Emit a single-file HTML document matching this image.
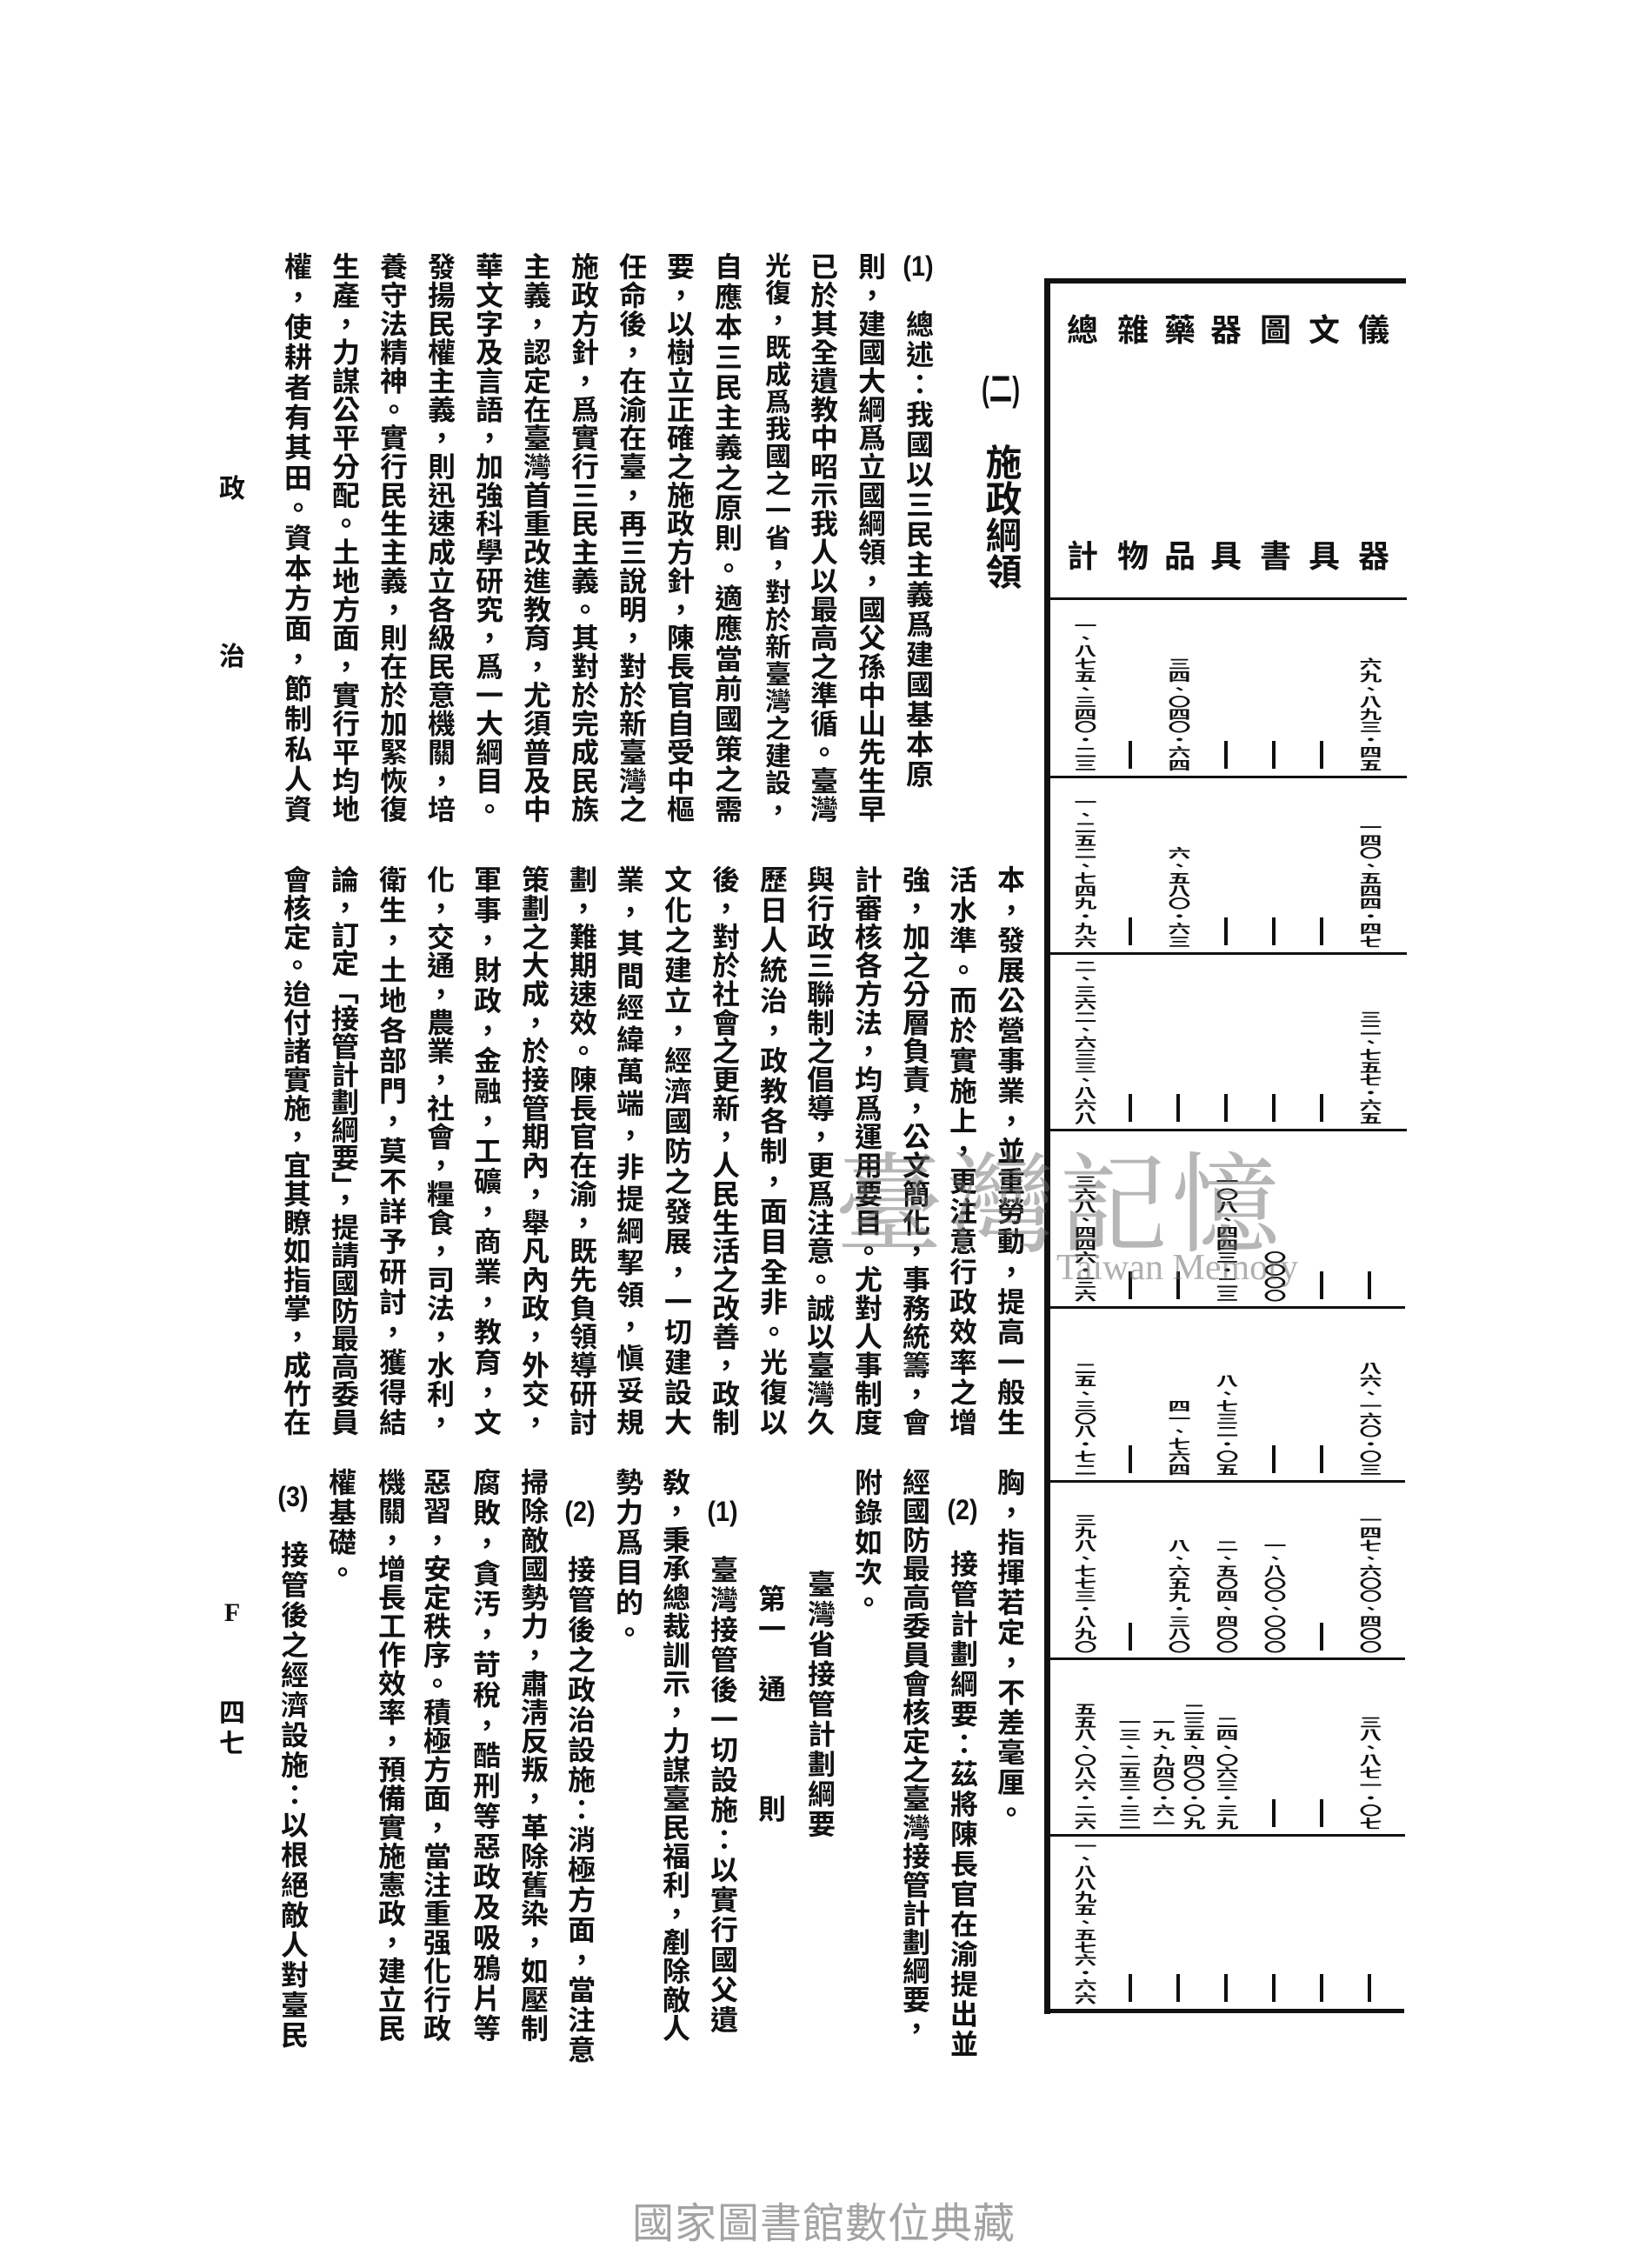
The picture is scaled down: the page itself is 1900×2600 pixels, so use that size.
<!DOCTYPE html>
<html><head><meta charset="utf-8">
<style>
html,body{margin:0;padding:0;background:#fff;}
body{width:1900px;height:2600px;position:relative;overflow:hidden;font-family:"Liberation Sans","Noto Sans CJK TC","Noto Sans CJK SC",sans-serif;color:#111;}
.c{position:absolute;writing-mode:vertical-rl;font-size:32px;line-height:34px;letter-spacing:2.5px;font-weight:700;white-space:nowrap;width:34px;}
.f{height:656px;white-space:normal;letter-spacing:0;text-align:justify;text-align-last:justify;text-justify:inter-character;}
.t{text-combine-upright:all;}
.h{position:absolute;font-size:36px;font-weight:700;width:40px;text-align:center;line-height:40px;}
.n{position:absolute;writing-mode:vertical-rl;text-orientation:upright;font-size:26px;font-weight:700;line-height:28px;width:28px;white-space:nowrap;transform:scaleY(0.56);transform-origin:bottom center;letter-spacing:0;}
.d{position:absolute;width:4px;height:32px;background:#111;}
.hl{position:absolute;background:#111;}
.side{position:absolute;font-size:30px;font-weight:700;width:36px;text-align:center;}
</style></head><body>

<!-- title -->
<div class="c" style="left:1131px;top:428px;font-size:40px;line-height:40px;width:40px;letter-spacing:3px"><span class="t">(二)</span></div>
<div class="c" style="left:1129px;top:510px;font-size:42px;line-height:44px;width:44px;letter-spacing:0">施政綱領</div>

<!-- upper band -->
<div class="c" style="left:1039px;top:290px"><span class="t">(1)</span>　總述：我國以三民主義爲建國基本原</div>
<div class="c f" style="left:984px;top:290px">則，建國大綱爲立國綱領，國父孫中山先生早</div>
<div class="c f" style="left:929px;top:290px">已於其全遺教中昭示我人以最高之準循。臺灣</div>
<div class="c f" style="left:874px;top:290px;font-size:30px">光復，既成爲我國之一省，對於新臺灣之建設，</div>
<div class="c f" style="left:819px;top:290px">自應本三民主義之原則。適應當前國策之需</div>
<div class="c f" style="left:764px;top:290px">要，以樹立正確之施政方針，陳長官自受中樞</div>
<div class="c f" style="left:709px;top:290px">任命後，在渝在臺，再三說明，對於新臺灣之</div>
<div class="c f" style="left:654px;top:290px">施政方針，爲實行三民主義。其對於完成民族</div>
<div class="c f" style="left:599px;top:290px">主義，認定在臺灣首重改進教育，尤須普及中</div>
<div class="c f" style="left:544px;top:290px">華文字及言語，加強科學研究，爲一大綱目。</div>
<div class="c f" style="left:489px;top:290px">發揚民權主義，則迅速成立各級民意機關，培</div>
<div class="c f" style="left:434px;top:290px">養守法精神。實行民生主義，則在於加緊恢復</div>
<div class="c f" style="left:379px;top:290px">生產，力謀公平分配。土地方面，實行平均地</div>
<div class="c f" style="left:324px;top:290px">權，使耕者有其田。資本方面，節制私人資</div>

<!-- middle band -->
<div class="c f" style="left:1144px;top:995px">本，發展公營事業，並重勞動，提高一般生</div>
<div class="c f" style="left:1089px;top:995px">活水準。而於實施上，更注意行政效率之增</div>
<div class="c f" style="left:1035px;top:995px">強，加之分層負責，公文簡化，事務統籌，會</div>
<div class="c f" style="left:980px;top:995px">計審核各方法，均爲運用要目。尤對人事制度</div>
<div class="c f" style="left:925px;top:995px">與行政三聯制之倡導，更爲注意。誠以臺灣久</div>
<div class="c f" style="left:871px;top:995px">歷日人統治，政教各制，面目全非。光復以</div>
<div class="c f" style="left:816px;top:995px">後，對於社會之更新，人民生活之改善，政制</div>
<div class="c f" style="left:761px;top:995px">文化之建立，經濟國防之發展，一切建設大</div>
<div class="c f" style="left:706px;top:995px">業，其間經緯萬端，非提綱挈領，愼妥規</div>
<div class="c f" style="left:652px;top:995px">劃，難期速效。陳長官在渝，既先負領導研討</div>
<div class="c f" style="left:597px;top:995px">策劃之大成，於接管期內，舉凡內政，外交，</div>
<div class="c f" style="left:542px;top:995px">軍事，財政，金融，工礦，商業，教育，文</div>
<div class="c f" style="left:488px;top:995px">化，交通，農業，社會，糧食，司法，水利，</div>
<div class="c f" style="left:433px;top:995px">衛生，土地各部門，莫不詳予研討，獲得結</div>
<div class="c f" style="left:378px;top:995px">論，訂定「接管計劃綱要」，提請國防最高委員</div>
<div class="c f" style="left:323px;top:995px">會核定。迨付諸實施，宜其瞭如指掌，成竹在</div>

<!-- lower band -->
<div class="c" style="left:1144px;top:1688px">胸，指揮若定，不差毫厘。</div>
<div class="c" style="left:1090px;top:1720px;height:627px"><span class="t">(2)</span><span style="display:inline-block;height:30px"></span>接管計劃綱要：茲將陳長官在渝提出並</div>
<div class="c f" style="left:1035px;top:1688px;height:660px">經國防最高委員會核定之臺灣接管計劃綱要，</div>
<div class="c" style="left:980px;top:1688px">附錄如次。</div>
<div class="c" style="left:926px;top:1805px">臺灣省接管計劃綱要</div>
<div class="c" style="left:869px;top:1822px">第一　通　　　則</div>
<div class="c" style="left:814px;top:1722px"><span class="t">(1)</span>　臺灣接管後一切設施：以實行國父遺</div>
<div class="c f" style="left:759px;top:1688px;height:660px">敎，秉承總裁訓示，力謀臺民福利，剷除敵人</div>
<div class="c" style="left:705px;top:1688px">勢力爲目的。</div>
<div class="c" style="left:650px;top:1722px"><span class="t">(2)</span>　接管後之政治設施：消極方面，當注意</div>
<div class="c f" style="left:596px;top:1688px;height:660px">掃除敵國勢力，肅淸反叛，革除舊染，如壓制</div>
<div class="c f" style="left:541px;top:1688px;height:660px">腐敗，貪汚，苛稅，酷刑等惡政及吸鴉片等</div>
<div class="c f" style="left:484px;top:1688px;height:660px">惡習，安定秩序。積極方面，當注重强化行政</div>
<div class="c f" style="left:432px;top:1688px;height:660px">機關，增長工作效率，預備實施憲政，建立民</div>
<div class="c" style="left:375px;top:1688px">權基礎。</div>
<div class="c" style="left:320px;top:1705px"><span class="t">(3)</span>　接管後之經濟設施：以根絕敵人對臺民</div>

<!-- side labels -->
<div class="side" style="left:249px;top:537px">政</div>
<div class="side" style="left:249px;top:730px">治</div>
<div class="side" style="left:249px;top:1838px;font-family:'Liberation Serif',serif">F</div>
<div class="side" style="left:249px;top:1945px">四</div>
<div class="side" style="left:249px;top:1980px">七</div>

<!-- table lines -->
<div class="hl" style="left:1203px;top:320px;width:414px;height:6px"></div>
<div class="hl" style="left:1201px;top:320px;width:7px;height:1996px"></div>
<div class="hl" style="left:1206px;top:687px;width:412px;height:3px"></div>
<div class="hl" style="left:1206px;top:892px;width:412px;height:3px"></div>
<div class="hl" style="left:1206px;top:1095px;width:412px;height:3px"></div>
<div class="hl" style="left:1206px;top:1298px;width:412px;height:3px"></div>
<div class="hl" style="left:1206px;top:1502px;width:410px;height:3px"></div>
<div class="hl" style="left:1206px;top:1702px;width:410px;height:3px"></div>
<div class="hl" style="left:1206px;top:1906px;width:410px;height:3px"></div>
<div class="hl" style="left:1206px;top:2109px;width:410px;height:3px"></div>
<div class="hl" style="left:1203px;top:2310px;width:412px;height:5px"></div>

<!-- header -->
<div class="h" style="left:1560px;top:360px">儀</div>
<div class="h" style="left:1503px;top:360px">文</div>
<div class="h" style="left:1447px;top:360px">圖</div>
<div class="h" style="left:1390px;top:360px">器</div>
<div class="h" style="left:1337px;top:360px">藥</div>
<div class="h" style="left:1283px;top:360px">雜</div>
<div class="h" style="left:1225px;top:360px">總</div>
<div class="h" style="left:1560px;top:620px">器</div>
<div class="h" style="left:1503px;top:620px">具</div>
<div class="h" style="left:1447px;top:620px">書</div>
<div class="h" style="left:1390px;top:620px">具</div>
<div class="h" style="left:1337px;top:620px">品</div>
<div class="h" style="left:1283px;top:620px">物</div>
<div class="h" style="left:1225px;top:620px">計</div>

<!-- row 1 -->
<div class="n" style="left:1233px;bottom:1713px">一、八七五、三四〇・二三</div>
<div class="d" style="left:1298px;top:852px"></div>
<div class="n" style="left:1341px;bottom:1713px">三四、〇四〇・六四</div>
<div class="d" style="left:1408px;top:852px"></div>
<div class="d" style="left:1463px;top:852px"></div>
<div class="d" style="left:1518px;top:852px"></div>
<div class="n" style="left:1561px;bottom:1713px">六九、八九三・四五</div>
<!-- row 2 -->
<div class="n" style="left:1233px;bottom:1510px">一、二五二、七四九・九六</div>
<div class="d" style="left:1298px;top:1055px"></div>
<div class="n" style="left:1341px;bottom:1510px">六、五八〇・六三</div>
<div class="d" style="left:1408px;top:1055px"></div>
<div class="d" style="left:1463px;top:1055px"></div>
<div class="d" style="left:1518px;top:1055px"></div>
<div class="n" style="left:1561px;bottom:1510px">一四〇、五四四・四七</div>
<!-- row 3 -->
<div class="n" style="left:1233px;bottom:1307px">二、三六二、六三三、八六八</div>
<div class="d" style="left:1298px;top:1258px"></div>
<div class="d" style="left:1353px;top:1258px"></div>
<div class="d" style="left:1408px;top:1258px"></div>
<div class="d" style="left:1463px;top:1258px"></div>
<div class="d" style="left:1518px;top:1258px"></div>
<div class="n" style="left:1561px;bottom:1307px">三二、七五七・六五</div>
<!-- row 4 -->
<div class="n" style="left:1233px;bottom:1103px">三六八、四四六・三六</div>
<div class="d" style="left:1298px;top:1462px"></div>
<div class="d" style="left:1353px;top:1462px"></div>
<div class="n" style="left:1396px;bottom:1103px">一〇八、四四三・二三</div>
<div class="n" style="left:1451px;bottom:1103px">〇〇〇〇</div>
<div class="d" style="left:1518px;top:1462px"></div>
<div class="d" style="left:1573px;top:1462px"></div>
<!-- row 5 -->
<div class="n" style="left:1233px;bottom:903px">二五、三〇八・七二</div>
<div class="d" style="left:1298px;top:1662px"></div>
<div class="n" style="left:1341px;bottom:903px">四一、七六四</div>
<div class="n" style="left:1396px;bottom:903px">八、七三二・〇五</div>
<div class="d" style="left:1463px;top:1662px"></div>
<div class="d" style="left:1518px;top:1662px"></div>
<div class="n" style="left:1561px;bottom:903px">八六、一六〇・〇三</div>
<!-- row 6 -->
<div class="n" style="left:1233px;bottom:699px">三九八、七七三・八九〇</div>
<div class="d" style="left:1298px;top:1866px"></div>
<div class="n" style="left:1341px;bottom:699px">八、六五九・三八〇</div>
<div class="n" style="left:1396px;bottom:699px">二、五〇四、四〇〇</div>
<div class="n" style="left:1451px;bottom:699px">一、八〇〇、〇〇〇</div>
<div class="d" style="left:1518px;top:1866px"></div>
<div class="n" style="left:1561px;bottom:699px">一四七、六〇〇、四〇〇</div>
<!-- row 7 -->
<div class="n" style="left:1233px;bottom:496px">五五八、〇八六・二六</div>
<div class="n" style="left:1284px;bottom:496px">一三、二五三・三二</div>
<div class="n" style="left:1323px;bottom:496px">一九、九四〇・六一</div>
<div class="n" style="left:1358px;bottom:496px">二三五、四〇〇・〇九</div>
<div class="n" style="left:1396px;bottom:496px">二四、〇六三・三九</div>
<div class="d" style="left:1463px;top:2069px"></div>
<div class="d" style="left:1518px;top:2069px"></div>
<div class="n" style="left:1561px;bottom:496px">三八、八七一・〇七</div>
<!-- row 8 -->
<div class="n" style="left:1233px;bottom:295px">一、八八九五、五七六・六六</div>
<div class="d" style="left:1298px;top:2270px"></div>
<div class="d" style="left:1353px;top:2270px"></div>
<div class="d" style="left:1408px;top:2270px"></div>
<div class="d" style="left:1463px;top:2270px"></div>
<div class="d" style="left:1518px;top:2270px"></div>
<div class="d" style="left:1573px;top:2270px"></div>

<!-- watermark -->
<div style="position:absolute;left:960px;top:1300px;font-size:125px;line-height:150px;color:rgba(110,110,110,0.5);font-family:'Noto Serif CJK SC',serif;letter-spacing:4px;white-space:nowrap">臺灣記憶</div>
<div style="position:absolute;left:1215px;top:1435px;font-size:42px;line-height:46px;color:rgba(110,110,110,0.55);font-family:'Liberation Serif',serif;white-space:nowrap">Taiwan Memory</div>

<!-- footer -->
<div style="position:absolute;left:727px;top:2530px;font-size:48px;line-height:56px;color:#a3a3a3;letter-spacing:1px;white-space:nowrap;font-family:'Liberation Sans','Noto Sans CJK TC',sans-serif">國家圖書館數位典藏</div>

</body></html>
